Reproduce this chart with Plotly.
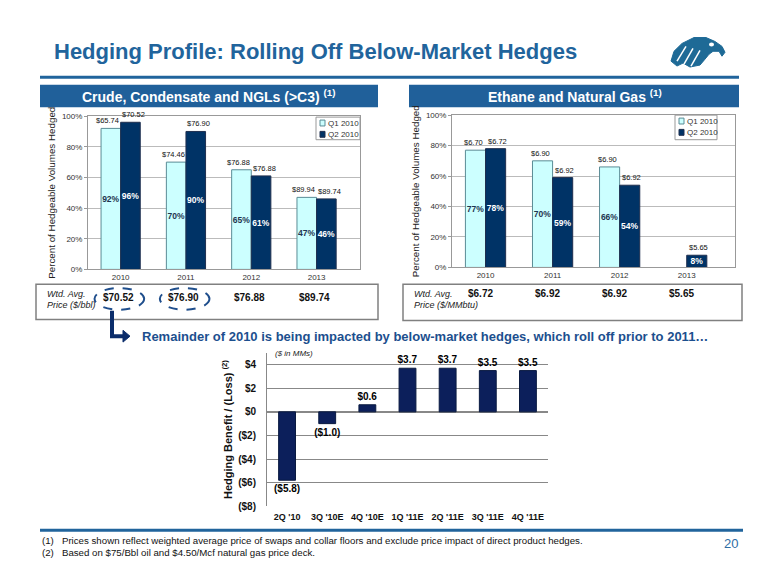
import plotly.graph_objects as go

# ---------------- data ----------------
years = ["2010", "2011", "2012", "2013"]
crude_q1_pct = [92, 70, 65, 47]
crude_q2_pct = [96, 90, 61, 46]
crude_q1_price = ["$65.74", "$74.46", "$76.88", "$89.94"]
crude_q2_price = ["$70.52", "$76.90", "$76.88", "$89.74"]
crude_wtd = ["$70.52", "$76.90", "$76.88", "$89.74"]

gas_q1_pct = [77, 70, 66, None]
gas_q2_pct = [78, 59, 54, 8]
gas_q1_price = ["$6.70", "$6.90", "$6.90", None]
gas_q2_price = ["$6.72", "$6.92", "$6.92", "$5.65"]
gas_wtd = ["$6.72", "$6.92", "$6.92", "$5.65"]

quarters = ["2Q '10", "3Q '10E", "4Q '10E", "1Q '11E", "2Q '11E", "3Q '11E", "4Q '11E"]
hedge_benefit = [-5.8, -1.0, 0.6, 3.7, 3.7, 3.5, 3.5]
hedge_labels = ["($5.8)", "($1.0)", "$0.6", "$3.7", "$3.7", "$3.5", "$3.5"]
hedge_tickvals = [-8, -6, -4, -2, 0, 2, 4]
hedge_ticktext = ["($8)", "($6)", "($4)", "($2)", "$0", "$2", "$4"]
pct_tickvals = [0, 20, 40, 60, 80, 100]
pct_ticktext = ["0%", "20%", "40%", "60%", "80%", "100%"]
legend_names = ["Q1 2010", "Q2 2010"]

# ---------------- geometry helpers (page pixels -> paper) ----------------
PAD = 8                      # default body margin of the page
W, H = 780 - 2 * PAD, 585 - 2 * PAD
def fx(p): return (p - PAD) / W
def fy(p): return 1 - (p - PAD) / H

ARIAL = "Liberation Sans, Arial, sans-serif"
BLUE = "#21649C"
NAVY_TXT = "#1C4F8E"
Q1_FILL, Q1_LINE = "#CCFFFF", "#5A8C96"
Q2_FILL, Q2_LINE = "#003366", "#1F2F4F"
BAR3 = "#0C1F5B"

fig = go.Figure()
def idx(n): return list(range(n))

def pct_bar(vals, fill, line, off, tcolor, xa, ya, name):
    return go.Bar(x=idx(len(vals)), y=vals, name=name, width=0.3, offset=off, showlegend=False,
                  marker=dict(color=fill, line=dict(color=line, width=1)),
                  text=[f"{v}%" if v is not None else "" for v in vals], textposition="inside",
                  insidetextanchor="middle", textangle=0, constraintext="none",
                  textfont=dict(family=ARIAL, size=8.5, color=tcolor, weight="bold"),
                  xaxis=xa, yaxis=ya, hoverinfo="skip")

fig.add_trace(pct_bar(crude_q1_pct, Q1_FILL, Q1_LINE, -0.3, "#1F3550", "x", "y", legend_names[0]))
fig.add_trace(pct_bar(crude_q2_pct, Q2_FILL, Q2_LINE, 0, "white", "x", "y", legend_names[1]))
fig.add_trace(pct_bar(gas_q1_pct, Q1_FILL, Q1_LINE, -0.3, "#1F3550", "x2", "y2", legend_names[0]))
fig.add_trace(pct_bar(gas_q2_pct, Q2_FILL, Q2_LINE, 0, "white", "x2", "y2", legend_names[1]))
fig.add_trace(go.Bar(x=quarters, y=hedge_benefit, width=0.42, showlegend=False,
                     marker=dict(color=BAR3, line=dict(color="#0A1A40", width=1)),
                     text=hedge_labels, textposition="outside", textangle=0, cliponaxis=False,
                     constraintext="none",
                     textfont=dict(family=ARIAL, size=10, color="black", weight="bold"),
                     xaxis="x3", yaxis="y3", hoverinfo="skip"))

ann = []
def txt(x, y, text, size, color="#222", xanchor="center", xref="paper", xshift=0, family=ARIAL):
    ann.append(dict(x=x, y=y, xref=xref, yref="paper", text=text, showarrow=False,
                    xanchor=xanchor, yanchor="middle", xshift=xshift,
                    font=dict(family=family, size=size, color=color)))

# price labels above bars
for i in range(4):
    for vals, labs, off, sh, xr, yr in [(crude_q1_pct, crude_q1_price, -0.15, -3, "x", "y"),
                                        (crude_q2_pct, crude_q2_price, 0.15, 3, "x", "y"),
                                        (gas_q1_pct, gas_q1_price, -0.15, -2, "x2", "y2"),
                                        (gas_q2_pct, gas_q2_price, 0.15, 2, "x2", "y2")]:
        if vals[i] is None or labs[i] is None:
            continue
        ann.append(dict(x=i + off, y=vals[i], xref=xr, yref=yr, text=labs[i], showarrow=False,
                        xanchor="center", yanchor="bottom", yshift=1, xshift=sh,
                        font=dict(family=ARIAL, size=7.5, color="#111")))

# weighted average price boxes
for i, t in enumerate(crude_wtd):
    txt(i, fy(299), f"<b>{t}</b>", 10, "#111", xref="x", xshift=-2)
for i, t in enumerate(gas_wtd):
    txt(i, fy(295), f"<b>{t}</b>", 10, "#111", xref="x2", xshift=-5)
txt(fx(45), fy(295), "<i>Wtd. Avg.</i>", 9, xanchor="left")
txt(fx(45), fy(306), "<i>Price ($/bbl)</i>", 9, xanchor="left")
txt(fx(412), fy(295), "<i>Wtd. Avg.</i>", 9, xanchor="left")
txt(fx(412), fy(306), "<i>Price ($/MMbtu)</i>", 9, xanchor="left")

# headings and notes
txt(fx(52), fy(48), "<b>Hedging Profile: Rolling Off Below-Market Hedges</b>", 22, BLUE, xanchor="left")
txt(fx(209), fy(94), "<b>Crude, Condensate and NGLs (>C3) <sup>(1)</sup></b>", 14, "white")
txt(fx(575), fy(94), "<b>Ethane and Natural Gas <sup>(1)</sup></b>", 14, "white")
txt(fx(140), fy(338), "<b>Remainder of 2010 is being impacted by below-market hedges, which roll off prior to 2011…</b>",
    13, NAVY_TXT, xanchor="left")
txt(fx(273), fy(356), "<i>($ in MMs)</i>", 8, xanchor="left")
txt(fx(40), fy(546), "(1)   Prices shown reflect weighted average price of swaps and collar floors and exclude price impact of direct product hedges.",
    9.7, "#111", xanchor="left")
txt(fx(40), fy(558), "(2)   Based on $75/Bbl oil and $4.50/Mcf natural gas price deck.", 9.7, "#111", xanchor="left")
txt(fx(731), fy(549), "20", 13, "#2E6DA4")

shapes = []
def rect(x0, y0, x1, y1, fill=None, line=None, width=0):
    shapes.append(dict(type="rect", xref="paper", yref="paper", x0=fx(x0), x1=fx(x1), y0=fy(y1), y1=fy(y0),
                       fillcolor=fill if fill else "rgba(0,0,0,0)",
                       line=dict(color=line if line else "rgba(0,0,0,0)", width=width)))

rect(40, 73, 739, 76, BLUE)
rect(40, 82, 378, 105, "#20609A")
rect(409, 82, 739, 105, "#20609A")
rect(36, 285, 378, 321, None, "#808080", 1.5)
rect(403, 285, 742, 322, None, "#808080", 1.5)
rect(40, 534, 743, 537, BLUE)

# manual legends
for (bx0, by0, bx1, by1) in [(316, 115, 360, 138), (675, 113, 717, 138)]:
    rect(bx0, by0, bx1, by1, "white", "#999", 1)
    for k, (fill, line) in enumerate([(Q1_FILL, Q1_LINE), (Q2_FILL, Q2_LINE)]):
        cy = by0 + 6 + k * 11.5
        rect(bx0 + 4, cy - 3, bx0 + 9, cy + 3, fill, line, 1)
        txt(fx(bx0 + 10), fy(cy), legend_names[k], 8, "#333", xanchor="left")

# dashed ellipses
for i in range(2):
    shapes.append(dict(type="circle", xref="x", yref="paper", x0=i - 0.4, x1=i + 0.36,
                       y0=fy(311), y1=fy(289), line=dict(color="#1F4E8C", width=2, dash="dash")))

def P(pts, close=False):
    s = "M " + " L ".join(f"{fx(a):.5f},{fy(b):.5f}" for a, b in pts)
    return s + (" Z" if close else "")
# arrow
shapes.append(dict(type="path", xref="paper", yref="paper", path=P([(112, 312), (112, 338), (124, 338)]),
                   line=dict(color="#0B2D6B", width=4)))
shapes.append(dict(type="path", xref="paper", yref="paper", path=P([(123, 332), (130, 338), (123, 344)], True),
                   fillcolor="#0B2D6B", line=dict(color="#0B2D6B", width=1)))
# eagle logo (stylised)
eagle = [(671, 58), (674, 48), (682, 40), (694, 34), (706, 34), (715, 38), (722, 43), (725, 49),
         (722, 53), (719, 48), (713, 48), (709, 51), (705, 56), (700, 62), (690, 64), (683, 60), (677, 63)]
shapes.append(dict(type="path", xref="paper", yref="paper", path=P(eagle, True),
                   fillcolor="#1E6A96", line=dict(color="#1E6A96", width=1)))
for a, b in [((677, 58), (686, 43)), ((684, 61), (693, 45)), ((691, 63), (700, 47))]:
    shapes.append(dict(type="line", xref="paper", yref="paper", x0=fx(a[0]), y0=fy(a[1]),
                       x1=fx(b[0]), y1=fy(b[1]), line=dict(color="white", width=1.5)))
shapes.append(dict(type="circle", xref="paper", yref="paper", x0=fx(709), x1=fx(714), y0=fy(43), y1=fy(39),
                   fillcolor="white", line=dict(width=0)))

tickf = dict(family=ARIAL, size=8, color="#333")
def pct_axis(dom, anchor):
    return dict(domain=dom, anchor=anchor, range=[0, 100], tickvals=pct_tickvals, ticktext=pct_ticktext,
                tickfont=tickf, showgrid=True, gridcolor="#BBBBBB", gridwidth=1, showline=True,
                linecolor="#999", mirror=True, ticks="outside", ticklen=3, tickcolor="#999", zeroline=False,
                title=dict(text="Percent of Hedgeable Volumes Hedged",
                           font=dict(family=ARIAL, size=9.8, color="#222"), standoff=4))
def yr_axis(dom, anchor, rmax):
    return dict(domain=dom, anchor=anchor, range=[-0.5, rmax], tickvals=idx(4), ticktext=years,
                tickfont=tickf, showline=True, linecolor="#999", mirror=True, showgrid=False, ticks="")

fig.update_layout(
    width=W, height=H, margin=dict(l=0, r=0, t=0, b=0),
    paper_bgcolor="white", plot_bgcolor="white", showlegend=False,
    xaxis=yr_axis([fx(88), fx(360)], "y", 3.665),
    yaxis=pct_axis([fy(270), fy(114)], "x"),
    xaxis2=yr_axis([fx(452), fx(735)], "y2", 3.72),
    yaxis2=pct_axis([fy(268), fy(113)], "x2"),
    xaxis3=dict(domain=[fx(267), fx(548)], anchor="y3", type="category",
                tickfont=dict(family=ARIAL, size=9, color="#111", weight="bold"),
                showline=False, showgrid=False, ticks="", ticklabelstandoff=4),
    yaxis3=dict(domain=[fy(511), fy(355)], anchor="x3", range=[-8, 5], tickvals=hedge_tickvals,
                ticktext=hedge_ticktext, tickfont=dict(family=ARIAL, size=10, color="#111", weight="bold"),
                showgrid=True, gridcolor="#888", gridwidth=1, zeroline=True, zerolinecolor="#888",
                showline=True, linecolor="#888", ticks="", ticklabelstandoff=8,
                title=dict(text="<b>Hedging Benefit / (Loss) <sup>(2)</sup></b>",
                           font=dict(family=ARIAL, size=11, color="#111"), standoff=3)),
    annotations=ann, shapes=shapes,
)

fig.write_html("out.html")
